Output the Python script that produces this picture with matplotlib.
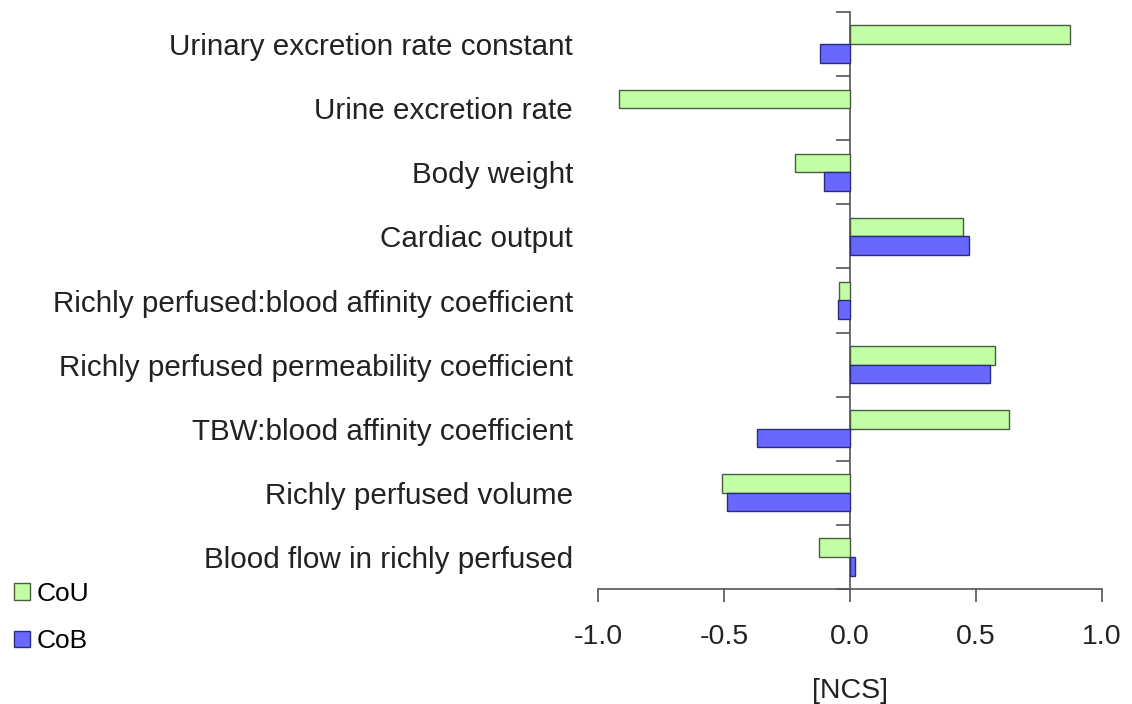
import matplotlib
matplotlib.use("Agg")
import matplotlib.pyplot as plt
import numpy as np
from matplotlib.patches import Patch

categories = [
    "Urinary excretion rate constant",
    "Urine excretion rate",
    "Body weight",
    "Cardiac output",
    "Richly perfused:blood affinity coefficient",
    "Richly perfused permeability coefficient",
    "TBW:blood affinity coefficient",
    "Richly perfused volume",
    "Blood flow in richly perfused",
]
cou = [0.872, -0.918, -0.218, 0.447, -0.042, 0.575, 0.630, -0.506, -0.125]
cob = [-0.118, 0.0, -0.105, 0.471, -0.046, 0.557, -0.368, -0.487, 0.020]
series_names = ["CoU", "CoB"]
xticks = [-1.0, -0.5, 0.0, 0.5, 1.0]

green = "#c2ffa4"
blue = "#6868ff"

plt.rcParams['font.family'] = ['Liberation Sans', 'DejaVu Sans']

fig = plt.figure(figsize=(11.32, 7.04), dpi=100)
ax = fig.add_axes([598/1132, 115/704, 504/1132, 577/704])

n = len(categories)
y = np.arange(n)
h = 0.29
ax.barh(y - h/2, cou, height=h, color=green, edgecolor="#4a5a40", linewidth=1.0, label=series_names[0])
ax.barh(y + h/2, cob, height=h, color=blue, edgecolor="#2a2a80",
        linewidth=[0 if v == 0 else 1.0 for v in cob], label=series_names[1])

ax.set_xlim(-1.0, 1.0)
ax.set_ylim(n - 0.5, -0.5)

for s in ["top", "right", "left"]:
    ax.spines[s].set_visible(False)
ax.spines["bottom"].set_color("#555555")
ax.spines["bottom"].set_linewidth(1.2)

ax.set_xticks(xticks)
ax.set_xticklabels([f"{v:.1f}" for v in xticks], fontsize=20.5, color="#222222")
ax.tick_params(axis="x", direction="out", length=9, width=1.2, color="#555555", pad=16)

ax.set_yticks(y)
ax.set_yticklabels(categories, fontsize=21.3, color="#222222")
ax.tick_params(axis="y", length=0, pad=18)

# central y axis at x=0 with boundary ticks
sec = ax.secondary_yaxis(0.5)
sec.set_alignment("left")
sec.spines["left"].set_color("#555555")
sec.spines["left"].set_linewidth(1.2)
sec.set_yticks(np.arange(n + 1) - 0.5)
sec.set_yticklabels([])
sec.tick_params(axis="y", direction="out", length=10, width=1.2, color="#555555")

ax.set_xlabel("[NCS]", fontsize=20.5, color="#222222", labelpad=20)

handles = [Patch(facecolor=green, edgecolor="#4a5a40", linewidth=1.0),
           Patch(facecolor=blue, edgecolor="#2a2a80", linewidth=1.0)]
fig.legend(handles, series_names, loc="upper left", bbox_to_anchor=(-0.004, 0.2),
           frameon=False, fontsize=19, handlelength=0.6, handleheight=0.6,
           handletextpad=0.25, labelspacing=0.9, borderaxespad=0.3)

fig.savefig("out.png", dpi=100)
